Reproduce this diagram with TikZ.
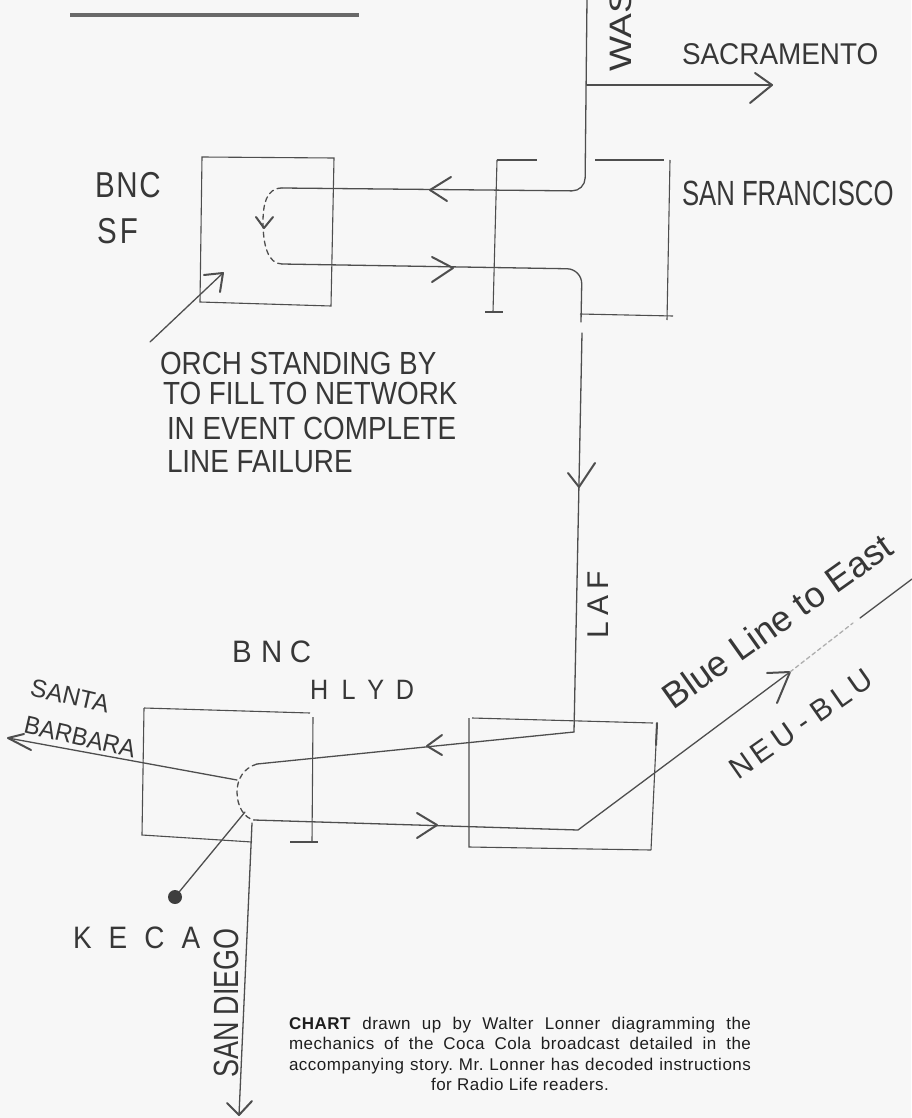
\documentclass[tikz,border=0pt]{standalone}
\usepackage{fontspec}
\setmainfont{Liberation Sans}
\usepackage{graphicx}
\usetikzlibrary{calc}
\definecolor{ink}{RGB}{78,78,78}
\definecolor{txt}{RGB}{55,55,55}
\definecolor{captxt}{RGB}{30,30,30}
\definecolor{paper}{RGB}{247,247,247}
\newcommand{\hw}[3]{\scalebox{#2}[1]{\fontsize{#1}{#1}\selectfont #3}}
\newcommand{\lsp}[1]{\hspace{#1pt}}
\newcommand{\barbs}[3]{\draw[ln,line width=2pt] ($(#1)+(#2)$) -- (#1) -- ($(#1)+(#3)$);}
\newcommand{\capline}[1]{\hbox to 462pt{#1}}
\begin{document}
\begin{tikzpicture}[x=1pt,y=-1pt,
  ln/.style={draw=ink,line width=1.3pt,line cap=round,line join=round},
  thin/.style={draw=ink,line width=1.1pt},
  lbl/.style={text=txt,inner sep=0pt,outer sep=0pt}]
\fill[paper] (0,0) rectangle (911,1118);
\useasboundingbox (0,0) rectangle (911,1118);

% top bar
\coordinate (barL) at (70,15);
\coordinate (barR) at (359,15);
\draw[draw=ink!85,line width=4pt] (barL) -- (barR);

% ---------- San Francisco section ----------
\coordinate (wTop) at (587,-2);
\coordinate (sacJ) at (587,85);
\coordinate (sacTip) at (772,85);
\coordinate (sfCorner) at (585,191);
\coordinate (sfUpL) at (282,188);
\coordinate (sfLoL) at (282,264);
\coordinate (sfCorner2) at (582,269);
\coordinate (sfLoEnd) at (581,322);
\coordinate (lafTop) at (582,333);
\coordinate (lafBot) at (574,732);

\draw[ln] (sacJ) -- (sacTip);
\barbs{sacTip}{-17,-12}{-22,18}

\draw[ln,rounded corners=13pt] (wTop) -- (sfCorner) -- (sfUpL);
\draw[ln,rounded corners=15pt] (sfLoL) -- (sfCorner2) -- (sfLoEnd);
\draw[ln] (lafTop) -- (lafBot);
\coordinate (lafArr) at (579,487);
\barbs{lafArr}{-11,-14}{16,-24}

% arrows on SF lines
\coordinate (sfArrU) at (430,190);
\barbs{sfArrU}{21,-13}{17,11}
\coordinate (sfArrL) at (453,268);
\barbs{sfArrL}{-21,-11}{-21,14}

% dashed loop in BNC SF
\draw[ln,dashed,dash pattern=on 5pt off 4pt] (sfUpL) .. controls (266,188) and (263,205) .. (263,222) .. controls (263,245) and (268,264) .. (sfLoL);
\coordinate (loopArr) at (264,228);
\barbs{loopArr}{-8,-11}{9,-11}

% BNC SF box
\coordinate (bsA) at (202,157);
\coordinate (bsB) at (334,158);
\coordinate (bsC) at (331,306);
\coordinate (bsD) at (200,302);
\draw[thin] (bsA) -- (bsB) -- (bsC) -- (bsD) -- cycle;

% I-beam SF
\coordinate (ibT) at (497,160);
\coordinate (ibB) at (493,312);
\draw[thin] (ibT) -- (ibB);
\draw[thin] (ibT) -- (537,160);
\draw[thin] (485,312) -- (503,312);

% San Francisco box
\coordinate (sfbA) at (595,160);
\coordinate (sfbB) at (664,160);
\coordinate (sfbC) at (670,160);
\coordinate (sfbD) at (667,320);
\draw[thin] (sfbA) -- (sfbB);
\draw[thin] (sfbC) -- (sfbD);
\draw[thin] (580,314) -- (673,316);

% orch arrow
\coordinate (orTail) at (150,342);
\coordinate (orTip) at (223,273);
\draw[ln] (orTail) -- (orTip);
\barbs{orTip}{-19,2}{-3,19}

% ---------- Hollywood / LA section ----------
\coordinate (hUpR) at (574,732);
\coordinate (hUpL) at (257,764);
\coordinate (hLoL) at (254,820);
\coordinate (hLoR) at (578,830);
\coordinate (eastArr) at (790,672);
\coordinate (eastGapA) at (853,623);
\coordinate (eastGapB) at (860,618);
\coordinate (eastEnd) at (912,579);

\draw[ln] (hUpR) -- (hUpL);
\coordinate (hArrU) at (427,746);
\barbs{hArrU}{15,-11}{15,9}
\draw[ln,dashed,dash pattern=on 5pt off 4pt] (hUpL) .. controls (243,768) and (237,780) .. (237,792) .. controls (237,806) and (244,818) .. (hLoL);
\draw[ln] (hLoL) -- (hLoR) -- (eastArr);
\coordinate (hArrL) at (437,825);
\barbs{hArrL}{-20,-12}{-20,13}
\barbs{eastArr}{-23,1}{-13,31}
\draw[ln,draw=ink!45,dashed,dash pattern=on 4pt off 3pt] (eastArr) -- (eastGapA);
\draw[ln] (eastGapB) -- (eastEnd);

% Santa Barbara arrow
\coordinate (sbStart) at (237,780);
\coordinate (sbTip) at (8,738);
\draw[ln] (sbStart) -- (sbTip);
\barbs{sbTip}{16,-4}{23,12}

% KECA
\coordinate (kStart) at (245,812);
\coordinate (kDot) at (175,897);
\draw[ln] (kStart) -- (kDot);
\fill[ink!80!black] (kDot) circle (7);

% San Diego
\coordinate (sdTop) at (252,823);
\coordinate (sdTip) at (239,1115);
\draw[ln] (sdTop) -- (sdTip);
\barbs{sdTip}{-12,-12}{13,-14}

% HLYD box
\draw[thin] (144,708) -- (310,713);
\draw[thin] (144,708) -- (142,835) -- (252,842);
\draw[thin] (313,717) -- (312,842);
\draw[thin] (290,842) -- (318,842);

% LAF box
\draw[thin] (472,718) -- (653,723);
\draw[thin] (469,718) -- (469,847) -- (651,850);
\draw[thin] (657,723) -- (651,850);
\draw[ln,line width=2pt] (657,723) -- (656,745);

% ---------- labels ----------
\node[lbl,rotate=90,anchor=west] (was) at (621,72) {\hw{31}{1.2}{WAS}};
\node[lbl,anchor=west] (sac) at (682,54) {\hw{30}{0.93}{SACRAMENTO}};
\node[lbl,anchor=west] (sf) at (682,193) {\hw{35}{0.735}{SAN FRANCISCO}};
\node[lbl,anchor=west] (bnc1) at (95,185) {\hw{36}{0.82}{B\lsp{2}N\lsp{2}C}};
\node[lbl,anchor=west] (sf1) at (97,231) {\hw{36}{0.82}{S\lsp{4}F}};
\node[lbl,anchor=west] (or1) at (160,363) {\hw{32}{0.87}{ORCH STANDING BY}};
\node[lbl,anchor=west] (or2) at (163,393) {\hw{32}{0.87}{TO FILL\,TO NETWORK}};
\node[lbl,anchor=west] (or3) at (167,428) {\hw{32}{0.87}{IN EVENT COMPLETE}};
\node[lbl,anchor=west] (or4) at (167,462) {\hw{32}{0.87}{LINE FAILURE}};
\node[lbl,rotate=90] (laf) at (598,605) {\hw{30}{1}{L\lsp{6}A\lsp{6}F}};
\node[lbl,anchor=west] (bnc2) at (232,652) {\hw{31}{0.95}{B\lsp{10}N\lsp{8}C}};
\node[lbl,anchor=west] (hlyd) at (310,690) {\hw{28}{0.9}{H\lsp{15}L\lsp{13}Y\lsp{13}D}};
\node[lbl,rotate=-13] (santa) at (70,696) {\hw{25}{0.98}{SANTA}};
\node[lbl,rotate=-13] (barb) at (80,737) {\hw{25}{0.95}{BARBARA}};
\node[lbl,rotate=35.4] (blue) at (777,621) {\hw{36}{1}{Blue Line to East}};
\node[lbl,rotate=35] (neu) at (801,724) {\hw{30}{1}{N\lsp{5}E\lsp{5}U\lsp{8}-\lsp{8}B\lsp{5}L\lsp{5}U}};
\node[lbl,anchor=west] (keca) at (73,938) {\hw{31}{0.9}{K\lsp{19}E\lsp{19}C\lsp{19}A}};
\node[lbl,rotate=90] (sd) at (226,1003) {\hw{35}{0.77}{SAN DIEGO}};

% caption
\node[lbl,text=captxt,anchor=north,align=center,
      font={\fontsize{17}{20.5}\selectfont\addfontfeature{LetterSpace=3}}] (cap) at (520,1017)
 {\capline{\textbf{CHART}\hfill drawn\hfill up\hfill by\hfill Walter\hfill Lonner\hfill diagramming\hfill the}\\
  \capline{mechanics\hfill of\hfill the\hfill Coca\hfill Cola\hfill broadcast\hfill detailed\hfill in\hfill the}\\
  \capline{accompanying\hfill story.\hfill Mr.\hfill Lonner\hfill has\hfill decoded\hfill instructions}\\
  for Radio Life readers.};
\end{tikzpicture}
\end{document}
